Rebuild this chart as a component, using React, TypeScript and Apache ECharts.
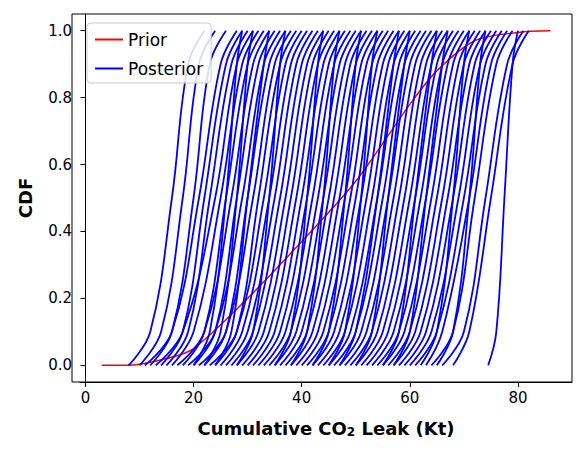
import { useEffect, useRef } from "react";
import * as echarts from "echarts";

const cdfLevels = [0, 0.1, 0.5, 0.9, 1];

// x (Kt) at each CDF level for each posterior curve
const posteriorCurves: number[][] = [
  [8, 12, 16, 19, 22], [10, 14, 18, 21, 24], [12, 16, 20, 23, 26], [11, 16, 21, 25, 28],
  [14, 18, 22, 26, 29], [15, 19, 23, 27, 30], [13, 18, 24, 28, 31], [16, 20, 25, 29, 32],
  [18, 22, 26, 30, 33], [17, 22, 27, 31, 34], [20, 24, 28, 32, 35], [19, 24, 29, 33, 36],
  [22, 26, 30, 34, 37], [21, 26, 31, 35, 38], [24, 28, 32, 36, 39], [23, 28, 33, 37, 40],
  [25, 29, 34, 38, 41], [26, 30, 35, 39, 42], [27, 31, 36, 40, 43], [28, 32, 37, 41, 44],
  [29, 33, 38, 42, 45], [30, 34, 39, 43, 46], [31, 35, 40, 44, 47], [32, 36, 41, 45, 48],
  [33, 37, 42, 46, 49], [34, 38, 43, 47, 50], [35, 39, 44, 48, 51], [36, 40, 45, 49, 52],
  [37, 41, 46, 50, 53], [38, 42, 47, 51, 54], [39, 43, 48, 52, 55], [40, 44, 49, 53, 56],
  [41, 45, 50, 54, 57], [42, 46, 51, 55, 58], [43, 47, 52, 56, 59], [44, 48, 53, 57, 60],
  [45, 49, 54, 58, 61], [46, 50, 55, 59, 62], [47, 51, 56, 60, 63], [48, 52, 57, 61, 64],
  [49, 53, 58, 62, 65], [50, 54, 59, 63, 66], [51, 55, 60, 64, 67], [52, 56, 61, 65, 68],
  [53, 57, 62, 66, 69], [54, 58, 63, 67, 70], [55, 59, 64, 68, 71], [56, 60, 65, 69, 72],
  [57, 61, 66, 70, 73], [58, 62, 67, 71, 74], [59, 63, 68, 72, 75], [60, 64, 69, 73, 76],
  [61, 65, 70, 74, 77], [63, 66, 71, 75, 78], [64, 68, 72, 76, 79], [66, 70, 74, 78, 81],
  [68, 71, 75, 79, 82], [74.5, 76, 77.5, 79, 80], [20, 23, 26, 28, 29], [22, 25, 28, 30, 31],
  [35, 38, 41, 43, 44], [45, 48, 51, 53, 54], [50, 53, 56, 59, 60], [55, 58, 61, 64, 65],
  [62, 65, 68, 70, 71], [65, 68, 71, 73, 74], [38, 41, 44, 46, 47], [28, 31, 34, 36, 37],
  [24, 27, 30, 33, 34], [42, 45, 48, 50, 51], [47, 50, 54, 57, 58], [57, 60, 63, 66, 67],
];

const priorX = [3, 8, 15, 20, 30, 40, 50, 60, 65, 72, 80, 86];
const priorY = [0, 0, 0.02, 0.05, 0.2, 0.37, 0.55, 0.78, 0.88, 0.97, 0.995, 1];

const xTicks = [0, 20, 40, 60, 80];
const yTicks = [0, 0.2, 0.4, 0.6, 0.8, 1.0];

export default function App() {
  const chartRef = useRef<HTMLDivElement>(null);

  useEffect(() => {
    if (!chartRef.current) return;
    const chart = echarts.init(chartRef.current, null, { renderer: "svg" });
    const font = "DejaVu Sans";

    const blueSeries = posteriorCurves.map((row) => ({
      name: "Posterior",
      type: "line",
      showSymbol: false,
      smooth: 0.4,
      color: "#0000ff",
      lineStyle: { color: "#0000ff", width: 1.8 },
      data: row.map((x, i) => [x, cdfLevels[i]]),
      z: 2,
    }));

    chart.setOption({
      animation: false,
      textStyle: { fontFamily: font },
      grid: { left: 64, right: 13, top: 6, bottom: 62 },
      legend: {
        data: [
          { name: "Prior", icon: "rect" },
          { name: "Posterior", icon: "rect" },
        ],
        orient: "vertical",
        left: 79,
        top: 15,
        itemWidth: 28,
        itemHeight: 2,
        itemGap: 12,
        padding: [8, 8, 6, 8],
        backgroundColor: "rgba(255,255,255,0.85)",
        borderColor: "#cccccc",
        borderWidth: 1,
        borderRadius: 4,
        textStyle: { fontSize: 17, fontFamily: font, color: "#000" },
      },
      xAxis: {
        type: "value",
        min: -1,
        max: 90,
        axisLabel: {
          fontSize: 15,
          color: "#000",
          customValues: xTicks,
        },
        axisTick: { show: true, customValues: xTicks, lineStyle: { color: "#000" } },
        axisLine: { onZero: false, lineStyle: { color: "#000" } },
        splitLine: { show: false },
        name: "Cumulative CO{sub|2} Leak (Kt)",
        nameLocation: "middle",
        nameGap: 36,
        nameTextStyle: {
          fontSize: 18,
          fontWeight: "bold",
          color: "#000",
          rich: { sub: { fontSize: 12, fontWeight: "bold", verticalAlign: "bottom", padding: [8, 0, 0, 0] } },
        },
      },
      yAxis: {
        type: "value",
        min: -0.05,
        max: 1.05,
        axisLabel: {
          fontSize: 15,
          color: "#000",
          customValues: yTicks,
          formatter: (v: number) => v.toFixed(1),
        },
        axisTick: { show: true, customValues: yTicks, lineStyle: { color: "#000" } },
        axisLine: { show: true, lineStyle: { color: "#000" } },
        splitLine: { show: false },
        name: "CDF",
        nameLocation: "middle",
        nameGap: 46,
        nameTextStyle: { fontSize: 18, fontWeight: "bold", color: "#000" },
      },
      series: [
        {
          name: "Prior",
          type: "line",
          showSymbol: false,
          smooth: 0.3,
          color: "#ff0000",
          lineStyle: { color: "#ff0000", width: 1.5 },
          data: priorX.map((x, i) => [x, priorY[i]]),
          z: 1,
        },
        ...blueSeries,
      ],
      graphic: [
        {
          type: "rect",
          shape: { x: 64, y: 6, width: 500, height: 368 },
          style: { fill: "none", stroke: "#000", lineWidth: 1 },
          silent: true,
        },
      ],
    });

    return () => chart.dispose();
  }, []);

  return <div ref={chartRef} style={{ width: 577, height: 436 }} />;
}
